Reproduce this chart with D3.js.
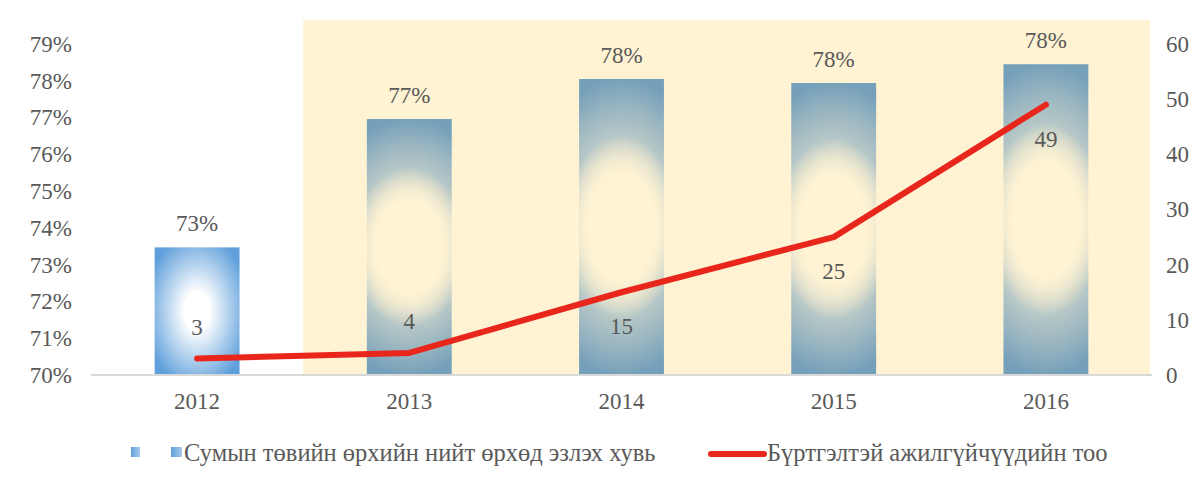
<!DOCTYPE html>
<html>
<head>
<meta charset="utf-8">
<script src="https://cdn.jsdelivr.net/npm/d3@7"></script>
<style>
  html, body { margin: 0; padding: 0; background: #ffffff; }
  svg { display: block; }
  svg text { fill: #595959; }
</style>
</head>
<body>
<svg id="chart" width="1203" height="483"></svg>
<script>
// ---- Data ----
const categories = ["2012", "2013", "2014", "2015", "2016"];
const shareValues = [0.7347, 0.7696, 0.7805, 0.7794, 0.7845];   // Сумын төвийн өрхийн нийт өрхөд эзлэх хувь
const unemployedValues = [3, 4, 15, 25, 49];                     // Бүртгэлтэй ажилгүйчүүдийн тоо
const unemployedLabelSide = ["above", "above", "below", "below", "below"];
const leftTicks = [0.70, 0.71, 0.72, 0.73, 0.74, 0.75, 0.76, 0.77, 0.78, 0.79];
const rightTicks = [0, 10, 20, 30, 40, 50, 60];
const highlightFrom = "2013";
const seriesNames = ["Сумын төвийн өрхийн нийт өрхөд эзлэх хувь", "Бүртгэлтэй ажилгүйчүүдийн тоо"];

// ---- Layout ----
const svg = d3.select("#chart");
const FONT = "'Times New Roman', Tinos, 'Liberation Serif', 'Noto Serif', 'DejaVu Serif', serif";
const plotLeft = 91, plotRight = 1152, plotTop = 44, plotBottom = 375;

const x = d3.scaleBand().domain(categories).range([plotLeft, plotRight])
  .paddingInner(0.6).paddingOuter(0.3);
const yL = d3.scaleLinear().domain([0.70, 0.79]).range([plotBottom, plotTop]);
const yR = d3.scaleLinear().domain([0, 60]).range([plotBottom, plotTop]);

// ---- Gradients ----
const defs = svg.append("defs");
const g1 = defs.append("radialGradient").attr("id", "gradFirst")
  .attr("cx", 0.5).attr("cy", 0.5).attr("r", 0.62);
g1.append("stop").attr("offset", "0").attr("stop-color", "#ffffff");
g1.append("stop").attr("offset", "0.24").attr("stop-color", "#ffffff");
g1.append("stop").attr("offset", "1").attr("stop-color", "#5f9fdb");

const g2 = defs.append("radialGradient").attr("id", "gradRest")
  .attr("cx", 0.5).attr("cy", 0.5).attr("r", 0.5)
  .attr("gradientTransform", "translate(0.5,0.5) scale(2.2,1) translate(-0.5,-0.5)");
g2.append("stop").attr("offset", "0").attr("stop-color", "#fff3d3").attr("stop-opacity", 0);
g2.append("stop").attr("offset", "0.32").attr("stop-color", "#fff3d3").attr("stop-opacity", 0);
g2.append("stop").attr("offset", "0.62").attr("stop-color", "#a9bfc4").attr("stop-opacity", 0.85);
g2.append("stop").attr("offset", "1").attr("stop-color", "#76a0ba");

const gLeg = defs.append("linearGradient").attr("id", "gradLegend")
  .attr("x1", 0).attr("x2", 1).attr("y1", 0).attr("y2", 0);
gLeg.append("stop").attr("offset", "0").attr("stop-color", "#5f9fdb");
gLeg.append("stop").attr("offset", "1").attr("stop-color", "#a9cbee");

// ---- Highlight band ----
const step = x.step();
const hlStart = x(highlightFrom) - step * x.paddingInner() / 2;
svg.append("rect")
  .attr("x", hlStart).attr("y", 20)
  .attr("width", plotRight - 2 - hlStart).attr("height", plotBottom - 20)
  .attr("fill", "#fff3d3");

// ---- Bars ----
svg.append("g").selectAll("rect").data(categories).join("rect")
  .attr("x", d => x(d))
  .attr("y", (d, i) => yL(shareValues[i]))
  .attr("width", x.bandwidth())
  .attr("height", (d, i) => plotBottom - yL(shareValues[i]))
  .attr("fill", (d, i) => i === 0 ? "url(#gradFirst)" : "url(#gradRest)");

// ---- Baseline ----
svg.append("line")
  .attr("x1", plotLeft).attr("x2", plotRight)
  .attr("y1", plotBottom).attr("y2", plotBottom)
  .attr("stroke", "#d9d9d9").attr("stroke-width", 2);

// ---- Axes ----
const fmtPct = d3.format(".0%");
const axL = svg.append("g").attr("transform", `translate(${plotLeft - 19},0)`)
  .call(d3.axisLeft(yL).tickValues(leftTicks).tickFormat(fmtPct).tickSize(0).tickPadding(0));
const axR = svg.append("g").attr("transform", `translate(${plotRight + 14},0)`)
  .call(d3.axisRight(yR).tickValues(rightTicks).tickFormat(d3.format("d")).tickSize(0).tickPadding(0));
const axB = svg.append("g").attr("transform", `translate(0,${plotBottom})`)
  .call(d3.axisBottom(x).tickSize(0).tickPadding(18));
[axL, axR, axB].forEach(a => {
  a.attr("font-family", null).attr("font-size", null);
  a.select(".domain").remove();
  a.selectAll("text").attr("fill", "#595959");
});

// ---- Line ----
const line = d3.line()
  .x((d, i) => x(categories[i]) + x.bandwidth() / 2)
  .y(d => yR(d));
svg.append("path").datum(unemployedValues)
  .attr("d", line)
  .attr("fill", "none")
  .attr("stroke", "#e8261c")
  .attr("stroke-width", 6)
  .attr("stroke-linejoin", "round")
  .attr("stroke-linecap", "round");

// ---- Labels ----
svg.append("g")
  .selectAll("text").data(categories).join("text")
  .attr("x", d => x(d) + x.bandwidth() / 2)
  .attr("y", (d, i) => yL(shareValues[i]) - 16)
  .attr("text-anchor", "middle")
  .text((d, i) => fmtPct(shareValues[i]));

svg.append("g")
  .selectAll("text").data(unemployedValues).join("text")
  .attr("x", (d, i) => x(categories[i]) + x.bandwidth() / 2)
  .attr("y", (d, i) => yR(d) + (unemployedLabelSide[i] === "above" ? -32 : 34))
  .attr("dy", "0.35em")
  .attr("text-anchor", "middle")
  .text(d => d);

svg.selectAll("text")
  .style("font-family", FONT)
  .style("font-size", "23px");

// ---- Legend ----
const leg = svg.append("g");
leg.append("rect").attr("x", 131).attr("y", 447).attr("width", 9).attr("height", 10).attr("fill", "url(#gradLegend)");
leg.append("rect").attr("x", 171).attr("y", 447).attr("width", 11).attr("height", 10).attr("fill", "url(#gradLegend)");
leg.append("text").attr("x", 184).attr("y", 452).attr("dy", "0.35em").text(seriesNames[0]);
leg.append("line").attr("x1", 711).attr("x2", 764).attr("y1", 454).attr("y2", 454)
  .attr("stroke", "#e8261c").attr("stroke-width", 6).attr("stroke-linecap", "round");
leg.append("text").attr("x", 767).attr("y", 452).attr("dy", "0.35em").text(seriesNames[1]);
leg.selectAll("text")
  .style("font-family", FONT)
  .style("font-size", "24.5px");
</script>
</body>
</html>
